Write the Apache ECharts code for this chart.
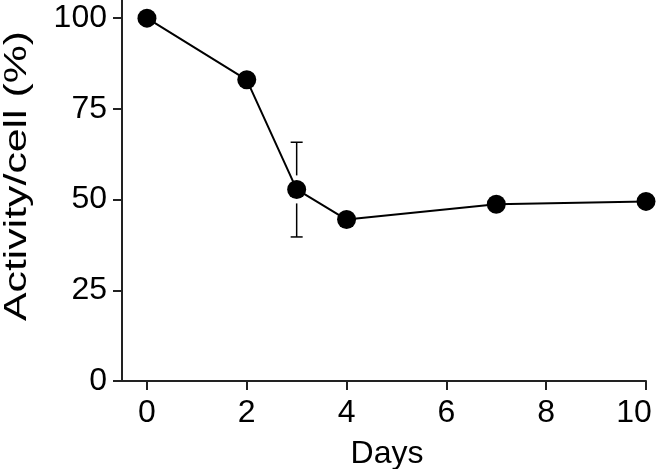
<!DOCTYPE html>
<html><head><meta charset="utf-8">
<script src="https://cdn.jsdelivr.net/npm/echarts@6/dist/echarts.min.js"></script>
<style>html,body{margin:0;padding:0;background:#fff}#c{width:657px;height:469px}</style>
</head><body><div id="c"></div>
<script>
const days = [0, 2, 3, 4, 7, 10];
const activity = [100, 83, 52.8, 44.5, 48.7, 49.5];
const errorBars = [[3, 39.7, 65.8]]; // [day, low, high]
const xTicks = [0, 2, 4, 6, 8, 10];
const yTicks = [0, 25, 50, 75, 100];
const xTitle = 'Days';
const yTitle = 'Activity/cell (%)';

const chart = echarts.init(document.getElementById('c'), null, {renderer: 'canvas'});
const font = 'Liberation Sans, Arial, Helvetica, sans-serif';
const fs = 32;
const xMaxTick = xTicks[xTicks.length - 1];
chart.setOption({
  animation: false,
  grid: {left: 122, right: 11, top: 0, bottom: 88, containLabel: false, outerBoundsMode: 'none'},
  graphic: [{
    type: 'text', x: 17, y: 176, rotation: Math.PI / 2, scaleX: 1.38,
    style: {text: yTitle, fontSize: 31, fill: '#000', fontFamily: font, align: 'center', verticalAlign: 'middle'}
  }],
  xAxis: {
    type: 'value', min: -0.5, max: 10,
    name: xTitle, nameLocation: 'middle', nameGap: 57,
    nameTextStyle: {fontSize: fs, color: '#000', fontFamily: font, padding: [0, 0, 0, 6]},
    axisLine: {onZero: false, lineStyle: {color: '#222', width: 2}},
    axisTick: {show: true, length: 9, lineStyle: {color: '#222', width: 2}, customValues: xTicks},
    axisLabel: {
      fontSize: fs, color: '#000', fontFamily: font, margin: 16, customValues: xTicks,
      formatter: v => v === xMaxTick ? '{m|' + v + '}' : String(v),
      rich: {m: {fontSize: fs, color: '#000', fontFamily: font, padding: [0, 24, 0, 0]}}
    },
    splitLine: {show: false}
  },
  yAxis: {
    type: 'value', min: 0, max: 105,
    axisLine: {show: true, onZero: false, lineStyle: {color: '#222', width: 2}},
    axisTick: {show: true, length: 9, lineStyle: {color: '#222', width: 2}, customValues: yTicks},
    axisLabel: {fontSize: fs, color: '#000', fontFamily: font, margin: 15, customValues: yTicks},
    splitLine: {show: false}
  },
  series: [
    {
      type: 'custom',
      data: errorBars,
      z: 1,
      renderItem: function (params, api) {
        const x = api.value(0);
        const lo = api.coord([x, api.value(1)]);
        const hi = api.coord([x, api.value(2)]);
        const c = api.coord([x, activity[days.indexOf(x)]]);
        const gap = 14, cap = 6;
        const st = {stroke: '#000', lineWidth: 1.5};
        return {type: 'group', children: [
          {type: 'line', shape: {x1: hi[0], y1: hi[1], x2: hi[0], y2: c[1] - gap}, style: st},
          {type: 'line', shape: {x1: lo[0], y1: lo[1], x2: lo[0], y2: c[1] + gap}, style: st},
          {type: 'line', shape: {x1: hi[0] - cap, y1: hi[1], x2: hi[0] + cap, y2: hi[1]}, style: st},
          {type: 'line', shape: {x1: lo[0] - cap, y1: lo[1], x2: lo[0] + cap, y2: lo[1]}, style: st}
        ]};
      }
    },
    {
      type: 'line', z: 3,
      data: days.map((d, i) => [d, activity[i]]),
      symbol: 'circle', symbolSize: 19,
      itemStyle: {color: '#000'},
      lineStyle: {color: '#000', width: 2}
    }
  ]
});
</script></body></html>
